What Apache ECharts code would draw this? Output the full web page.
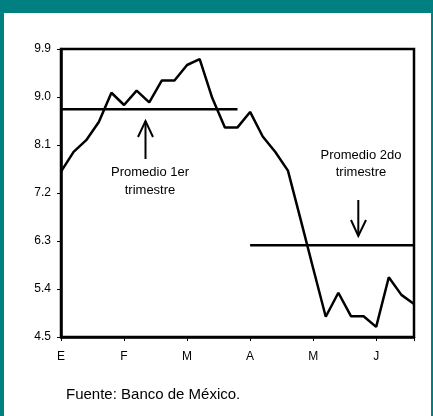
<!DOCTYPE html>
<html>
<head>
<meta charset="utf-8">
<script src="https://cdn.jsdelivr.net/npm/echarts@6/dist/echarts.min.js"></script>
<style>
  html, body { margin: 0; padding: 0; background: #fff; }
  #chart { width: 433px; height: 416px; }
</style>
</head>
<body>
<div id="chart"></div>
<script>
// tasa semanal (ene - jun)
var monthLabels = ['E', 'F', 'M', 'A', 'M', 'J'];
var weeklyRate = [7.60, 7.97, 8.19, 8.53, 9.08, 8.85, 9.12, 8.90, 9.31, 9.31,
                  9.60, 9.71, 8.98, 8.43, 8.43, 8.72, 8.26, 7.97, 7.62, 6.71,
                  5.79, 4.88, 5.33, 4.89, 4.89, 4.69, 5.62, 5.29, 5.12];
var avgQ1 = 8.77, avgQ2 = 6.22;
var q1End = 14, q2Start = 15;
var yTicks = [4.5, 5.4, 6.3, 7.2, 8.1, 9.0, 9.9];

var font = 'Liberation Sans, Arial, sans-serif';
var teal = '#008080';

var lineData = weeklyRate.map(function (v, i) { return [i, v]; });
var last = weeklyRate.length - 1;
var q1Data = [[0, avgQ1], [q1End, avgQ1]];
var q2Data = [[q2Start, avgQ2], [last, avgQ2]];

var chart = echarts.init(document.getElementById('chart'));

var option = {
    backgroundColor: '#fff',
    animation: false,
    grid: {
        left: 61, right: 19, top: 49, bottom: 79,
        show: true, borderColor: '#000', borderWidth: 2.5
    },
    xAxis: {
        type: 'value',
        min: 0, max: last, interval: 5,
        splitLine: { show: false },
        axisLine: { lineStyle: { color: '#000', width: 2.5 } },
        axisTick: { show: true, length: 4, lineStyle: { color: '#000', width: 1 } },
        axisLabel: {
            color: '#000', fontFamily: font, fontSize: 12, margin: 14,
            formatter: function (v) { return monthLabels[Math.round(v / 5)] || ''; }
        }
    },
    yAxis: {
        type: 'value',
        min: yTicks[0], max: yTicks[yTicks.length - 1], interval: 0.9,
        splitLine: { show: false },
        axisLine: { onZero: false, lineStyle: { color: '#000', width: 2.5 } },
        axisTick: { show: true, length: 4, lineStyle: { color: '#000', width: 1 } },
        axisLabel: {
            color: '#000', fontFamily: font, fontSize: 12, margin: 10,
            formatter: function (v) { return v.toFixed(1); }
        }
    },
    series: [
        {
            name: 'tasa', type: 'line', data: lineData,
            symbol: 'none', lineStyle: { color: '#000', width: 2.5 }
        },
        {
            name: 'Promedio 1er trimestre', type: 'line', data: q1Data,
            symbol: 'none', lineStyle: { color: '#000', width: 2.5 }
        },
        {
            name: 'Promedio 2do trimestre', type: 'line', data: q2Data,
            symbol: 'none', lineStyle: { color: '#000', width: 2.5 }
        }
    ],
    graphic: [
        // marco
        { type: 'rect', shape: { x: 0, y: 0, width: 433, height: 13 }, style: { fill: teal } },
        { type: 'rect', shape: { x: 0, y: 0, width: 4, height: 416 }, style: { fill: teal } },
        { type: 'rect', shape: { x: 431, y: 0, width: 2, height: 416 }, style: { fill: teal } },
        // flecha 1er trimestre
        { type: 'line', shape: { x1: 145.5, y1: 159, x2: 145.5, y2: 121 }, style: { stroke: '#000', lineWidth: 2 } },
        { type: 'polyline', shape: { points: [[138, 137], [145.5, 121], [153, 137]] }, style: { stroke: '#000', lineWidth: 2, fill: null } },
        { type: 'text', x: 150, y: 172, style: { text: 'Promedio 1er', font: '13px ' + font, fill: '#000', align: 'center', verticalAlign: 'middle' } },
        { type: 'text', x: 150, y: 190, style: { text: 'trimestre', font: '13px ' + font, fill: '#000', align: 'center', verticalAlign: 'middle' } },
        // flecha 2do trimestre
        { type: 'line', shape: { x1: 358.3, y1: 200, x2: 358.3, y2: 236 }, style: { stroke: '#000', lineWidth: 2 } },
        { type: 'polyline', shape: { points: [[351, 220], [358.3, 236], [366, 220]] }, style: { stroke: '#000', lineWidth: 2, fill: null } },
        { type: 'text', x: 361, y: 155, style: { text: 'Promedio 2do', font: '13px ' + font, fill: '#000', align: 'center', verticalAlign: 'middle' } },
        { type: 'text', x: 361, y: 172, style: { text: 'trimestre', font: '13px ' + font, fill: '#000', align: 'center', verticalAlign: 'middle' } },
        // fuente
        { type: 'text', x: 66, y: 395, style: { text: 'Fuente: Banco de México.', font: '15px ' + font, fill: '#000', align: 'left', verticalAlign: 'middle' } }
    ]
};

chart.setOption(option);
</script>
</body>
</html>
